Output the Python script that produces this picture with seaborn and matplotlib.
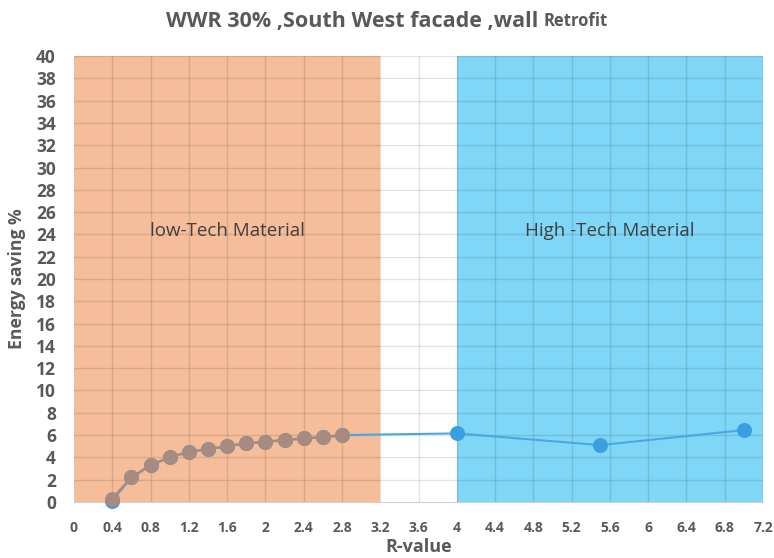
import matplotlib.pyplot as plt
import seaborn as sns
import numpy as np

# R-value vs energy saving
low_r = [0.4, 0.6, 0.8, 1.0, 1.2, 1.4, 1.6, 1.8, 2.0, 2.2, 2.4, 2.6, 2.8]
low_saving = [0.3, 2.2, 3.3, 4.0, 4.5, 4.75, 5.0, 5.25, 5.4, 5.55, 5.7, 5.8, 6.0]
# blue series runs under the low-tech points, then on to the high-tech ones
high_r = [0.4, 0.6, 0.8, 1.0, 1.2, 1.4, 1.6, 1.8, 2.0, 2.2, 2.4, 2.6, 2.8, 4.0, 5.5, 7.0]
high_saving = [0.1, 2.2, 3.3, 4.0, 4.5, 4.75, 5.0, 5.25, 5.4, 5.55, 5.7, 5.8, 6.0, 6.15, 5.1, 6.45]

low_zone = (0, 3.2)
high_zone = (4, 7.2)

x_ticks = np.round(np.arange(0, 7.21, 0.4), 1)
y_ticks = np.arange(0, 41, 2)

sns.set_style('white')
plt.rcParams['font.family'] = ['Open Sans', 'DejaVu Sans']

fig = plt.figure(figsize=(7.74, 5.58), dpi=100)
ax = fig.add_axes([0.0956, 0.1004, 0.8902, 0.7992])

# shaded zones
ax.axvspan(*low_zone, color='#F5BD99', zorder=0, lw=0)
ax.axvspan(*high_zone, color='#7FD6F7', zorder=0, lw=0)

# grid drawn over the zones, semi transparent
for xv in x_ticks[1:]:
    ax.axvline(xv, color='black', alpha=0.11, lw=1, zorder=1)
for yv in y_ticks[1:]:
    ax.axhline(yv, color='black', alpha=0.11, lw=1, zorder=1)

# high-tech series (blue) under the low-tech one
sns.lineplot(x=high_r, y=high_saving, ax=ax, color='#4AA8E0', lw=1.5,
             marker='o', markersize=10, markeredgecolor='#3A9FDE',
             markerfacecolor='#3A9FDE', zorder=3, sort=False, clip_on=False)
sns.lineplot(x=low_r, y=low_saving, ax=ax, color='#A88B80', lw=1.8,
             marker='o', markersize=10, markeredgecolor='#A88B80',
             markerfacecolor='#A88B80', zorder=4, sort=False, clip_on=False)

ax.set_xlim(0, 7.2)
ax.set_ylim(0, 40)
ax.set_xticks(x_ticks)
ax.set_xticklabels([f'{v:g}' for v in x_ticks])
ax.set_yticks(y_ticks)
ax.tick_params(axis='both', length=0, labelcolor='#595959')
ax.tick_params(axis='x', labelsize=10, pad=14)
ax.tick_params(axis='y', labelsize=12.5, pad=13)
for lbl in ax.get_xticklabels() + ax.get_yticklabels():
    lbl.set_fontweight('bold')

for side in ['top', 'right', 'left']:
    ax.spines[side].set_visible(False)
ax.spines['bottom'].set_color('#d0d0d0')
ax.spines['bottom'].set_zorder(2)

ax.set_xlabel('R-value', fontsize=13, fontweight='bold', color='#595959')
ax.xaxis.label.set_va('center')
ax.xaxis.set_label_coords(0.5, -0.101)
ax.set_ylabel('Energy saving %', fontsize=12.6, fontweight='bold', color='#595959')
ax.yaxis.label.set_va('center')
ax.yaxis.set_label_coords(-0.082, 0.5)

ax.text(1.6, 24.3, 'low-Tech Material', fontsize=13.5, color='#404040',
        ha='center', va='center', zorder=5)
ax.text(5.6, 24.3, 'High -Tech Material', fontsize=13.5, color='#404040',
        ha='center', va='center', zorder=5)

# title with a smaller last word
t1 = fig.text(0, 0.962, 'WWR 30% ,South West facade ,wall ', fontsize=15.5,
              fontweight='bold', color='#595959', va='center', ha='left')
t2 = fig.text(0, 0.962, 'Retrofit', fontsize=12, fontweight='bold',
              color='#595959', va='center', ha='left')
fig.canvas.draw()
r = fig.canvas.get_renderer()
w1 = t1.get_window_extent(r).width / fig.bbox.width
w2 = t2.get_window_extent(r).width / fig.bbox.width
start = 0.5 - (w1 + w2) / 2
t1.set_x(start)
t2.set_x(start + w1)

fig.savefig('out.png', dpi=100)
